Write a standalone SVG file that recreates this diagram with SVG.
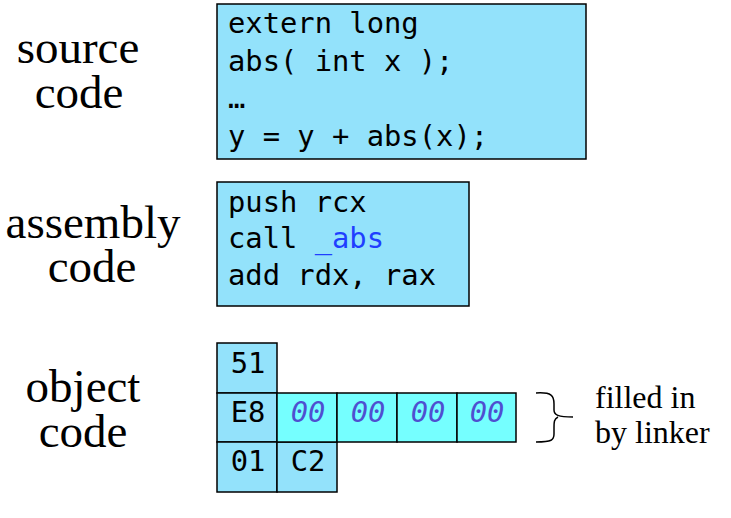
<svg xmlns="http://www.w3.org/2000/svg" width="731" height="518" viewBox="0 0 731 518">
<style>
.lbl{font-family:"Liberation Serif","Times New Roman",serif;font-size:47px;fill:#000;text-anchor:middle}
.note{font-family:"Liberation Serif","Times New Roman",serif;font-size:32px;fill:#000}
.code{font-family:"DejaVu Sans Mono","Liberation Mono",monospace;font-size:28.8px;fill:#000}
.box{fill:#93E2FB;stroke:#000;stroke-width:1.5}
.cyan{fill:#75FFFF;stroke:#000;stroke-width:1.5}
.cell{font-family:"DejaVu Sans Mono","Liberation Mono",monospace;font-size:28.8px;fill:#000;text-anchor:middle}
.zero{fill:#4F4FD0;font-style:italic}
</style>
<rect width="731" height="518" fill="#fff"/>
<g id="labels">
<text class="lbl" x="78" y="63">source</text>
<text class="lbl" x="79" y="108">code</text>
<text class="lbl" x="93" y="238">assembly</text>
<text class="lbl" x="92" y="282">code</text>
<text class="lbl" x="83" y="402">object</text>
<text class="lbl" x="83" y="447">code</text>
</g>
<g id="source">
<rect class="box" x="217" y="4" width="369" height="155"/>
<text class="code" x="228" y="33">extern long</text>
<text class="code" x="228" y="71">abs( int x );</text>
<text class="code" x="228" y="108">…</text>
<text class="code" x="228" y="146">y = y + abs(x);</text>
</g>
<g id="assembly">
<rect class="box" x="217" y="182" width="252" height="124"/>
<text class="code" x="228" y="212">push rcx</text>
<text class="code" x="228" y="248">call <tspan fill="#1F3FFF">_abs</tspan></text>
<text class="code" x="228" y="285">add rdx, rax</text>
</g>
<g id="object">
<rect class="box" x="217" y="343" width="60" height="50"/>
<rect class="box" x="217" y="393" width="60" height="49"/>
<rect class="box" x="217" y="442" width="60" height="50"/>
<rect class="box" x="277" y="442" width="60" height="50"/>
<rect class="cyan" x="277" y="393" width="60" height="49"/>
<rect class="cyan" x="337" y="393" width="60" height="49"/>
<rect class="cyan" x="397" y="393" width="60" height="49"/>
<rect class="cyan" x="457" y="393" width="59" height="49"/>
<text class="cell" x="248" y="373">51</text>
<text class="cell" x="248" y="422">E8</text>
<text class="cell" x="248" y="471">01</text>
<text class="cell" x="308" y="471">C2</text>
<text class="cell zero" x="308" y="422">00</text>
<text class="cell zero" x="368" y="422">00</text>
<text class="cell zero" x="428" y="422">00</text>
<text class="cell zero" x="487" y="422">00</text>
</g>
<g id="connectors">
<path d="M536,393 C552,392 554,396 554,404 L554,410 C554,415 558,417 573,417 M558,417 C554,419 554,422 554,428 L554,434 C554,440 552,442 536,442" fill="none" stroke="#000" stroke-width="1.5"/>
</g>
<g id="note">
<text class="note" x="595" y="408">filled in</text>
<text class="note" x="595" y="443">by linker</text>
</g>
</svg>
